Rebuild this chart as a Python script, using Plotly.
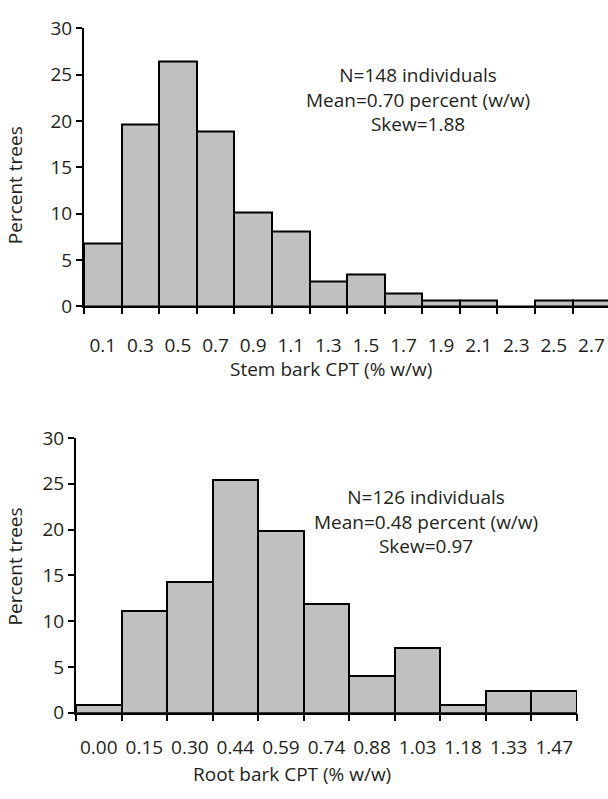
import plotly.graph_objects as go

# ---- data ----
stem_labels = ["0.1", "0.3", "0.5", "0.7", "0.9", "1.1", "1.3", "1.5", "1.7", "1.9", "2.1", "2.3", "2.5", "2.7"]
stem_pct = [6.8, 19.6, 26.4, 18.9, 10.1, 8.1, 2.7, 3.4, 1.35, 0.68, 0.68, 0.0, 0.68, 0.68]

root_labels = ["0.00", "0.15", "0.30", "0.44", "0.59", "0.74", "0.88", "1.03", "1.18", "1.33", "1.47"]
root_pct = [0.8, 11.1, 14.3, 25.4, 19.8, 11.9, 4.0, 7.1, 0.8, 2.4, 2.4]

stem_stats = ["N=148 individuals", "Mean=0.70 percent (w/w)", "Skew=1.88"]
root_stats = ["N=126 individuals", "Mean=0.48 percent (w/w)", "Skew=0.97"]

W, H = 608, 799
FONT = "Open Sans"
TXT = "#231f20"
FS = 19


def px(x):
    return x / W


def py(y):
    return 1 - y / H


fig = go.Figure()
fig.add_trace(go.Bar(x=list(range(len(stem_pct))), y=stem_pct, width=1,
                     marker=dict(color="#c0c0c0", line=dict(color="black", width=2)),
                     xaxis="x", yaxis="y", showlegend=False))
fig.add_trace(go.Bar(x=list(range(len(root_pct))), y=root_pct, width=1,
                     marker=dict(color="#c0c0c0", line=dict(color="black", width=2)),
                     xaxis="x2", yaxis="y2", showlegend=False))
# invisible helper traces so the bin-edge tick axes are drawn
fig.add_trace(go.Scatter(x=list(range(len(stem_pct))), y=stem_pct, xaxis="x3", yaxis="y",
                         mode="markers", marker=dict(opacity=0), hoverinfo="skip", showlegend=False))
fig.add_trace(go.Scatter(x=list(range(len(root_pct))), y=root_pct, xaxis="x4", yaxis="y2",
                         mode="markers", marker=dict(opacity=0), hoverinfo="skip", showlegend=False))

common_x = dict(showline=True, linecolor="black", linewidth=2, showgrid=False, zeroline=False,
                tickmode="array", ticks="outside", tickcolor="rgba(0,0,0,0)",
                tickfont=dict(family=FONT, size=FS, color=TXT))
edge_x = dict(showline=False, showgrid=False, zeroline=False, tickmode="array",
              showticklabels=False, ticks="outside", ticklen=7, tickwidth=2, tickcolor="black")
common_y = dict(showline=True, linecolor="black", linewidth=2, showgrid=False, zeroline=False,
                range=[0, 30], dtick=5, ticks="outside", ticklen=6, tickwidth=2, tickcolor="black",
                tickfont=dict(family=FONT, size=FS, color=TXT))

stem_range = [-0.5, 13.44]
root_range = [-0.5, 10.5]

fig.update_layout(
    width=W, height=H, margin=dict(l=0, r=0, t=0, b=0),
    plot_bgcolor="white", paper_bgcolor="white", bargap=0,
    xaxis=dict(common_x, domain=[px(84), 1.0], range=stem_range, anchor="y",
               tickvals=list(range(len(stem_labels))), ticktext=stem_labels, ticklen=21),
    yaxis=dict(common_y, domain=[py(303.3), py(16)], anchor="x"),
    xaxis2=dict(common_x, domain=[px(76), px(577)], range=root_range, anchor="y2",
                tickvals=list(range(len(root_labels))), ticktext=root_labels, ticklen=16),
    yaxis2=dict(common_y, domain=[py(723.3), py(439.3)], anchor="x2"),
    xaxis3=dict(edge_x, overlaying="x", anchor="y", range=stem_range,
                tickvals=[i - 0.5 for i in range(len(stem_labels) + 1)]),
    xaxis4=dict(edge_x, overlaying="x2", anchor="y2", range=root_range,
                tickvals=[i - 0.5 for i in range(len(root_labels) + 1)]),
)

ann = []
ann.append(dict(text="<br>".join(stem_stats), x=px(418), y=py(89), xref="paper", yref="paper",
                showarrow=False, xanchor="center", yanchor="middle", align="center",
                font=dict(family=FONT, size=FS, color=TXT)))
ann.append(dict(text="<br>".join(root_stats), x=px(426), y=py(526), xref="paper", yref="paper",
                showarrow=False, xanchor="center", yanchor="middle", align="center",
                font=dict(family=FONT, size=FS, color=TXT)))
ann.append(dict(text="Stem bark CPT (% w/w)", x=px(331), y=py(368), xref="paper", yref="paper",
                showarrow=False, xanchor="center", yanchor="middle", font=dict(family=FONT, size=FS, color=TXT)))
ann.append(dict(text="Root bark CPT (% w/w)", x=px(292), y=py(787), xref="paper", yref="paper",
                showarrow=False, xanchor="center", yanchor="middle", font=dict(family=FONT, size=FS, color=TXT)))
ann.append(dict(text="Percent trees", x=px(15), y=py(178), xref="paper", yref="paper", textangle=-90,
                showarrow=False, xanchor="center", yanchor="middle", font=dict(family=FONT, size=FS, color=TXT)))
ann.append(dict(text="Percent trees", x=px(15), y=py(572), xref="paper", yref="paper", textangle=-90,
                showarrow=False, xanchor="center", yanchor="middle", font=dict(family=FONT, size=FS, color=TXT)))
fig.update_layout(annotations=ann)

fig.write_html("out.html")
